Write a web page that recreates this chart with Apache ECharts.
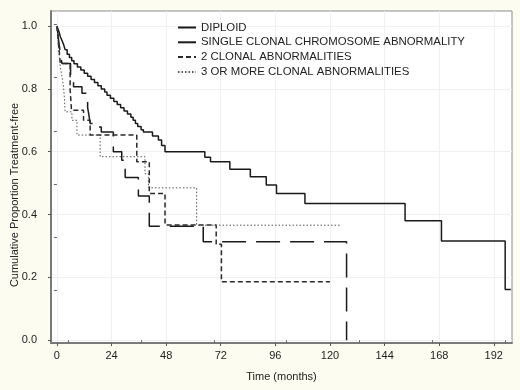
<!DOCTYPE html>
<html>
<head>
<meta charset="utf-8">
<script src="https://cdn.jsdelivr.net/npm/echarts@6/dist/echarts.min.js"></script>
<style>
  html, body { margin: 0; padding: 0; background: #fdfcf0; }
  #mainChart { width: 520px; height: 390px; }
</style>
</head>
<body>
<div id="mainChart"></div>
<script>
// 累积无治疗比例 (Kaplan-Meier)

var seriesNames = ['DIPLOID', 'SINGLE CLONAL CHROMOSOME ABNORMALITY', '2 CLONAL ABNORMALITIES', '3 OR MORE CLONAL ABNORMALITIES'];

var xTicks = [0, 24, 48, 72, 96, 120, 144, 168, 192];
var yTicks = [0, 0.2, 0.4, 0.6, 0.8, 1.0];
var topTicks = [5, 37, 69, 101, 133, 165, 197];
var rightTicks = [0.159, 0.328, 0.497, 0.666, 0.837, 1.006];

// DIPLOID
var diploidT = [0, 0.5, 1, 1.5, 2.2, 3, 3.6, 4.5, 5.5, 6.5, 7.5, 9, 10.5, 12, 13.5, 15, 16.5, 18, 19.5, 21, 22, 23.5, 25, 26.5, 28, 29.5, 31, 32.5, 33.5, 34.5, 35.5, 37, 38, 42, 44.6, 46, 47.5, 65, 67.5, 76, 85, 92, 96.5, 109, 153, 169, 197, 199.5];
var diploidP = [1.0, 0.99, 0.98, 0.966, 0.955, 0.94, 0.925, 0.91, 0.90, 0.89, 0.88, 0.87, 0.86, 0.85, 0.84, 0.83, 0.82, 0.81, 0.80, 0.79, 0.78, 0.77, 0.76, 0.75, 0.74, 0.73, 0.72, 0.71, 0.70, 0.69, 0.68, 0.67, 0.663, 0.65, 0.637, 0.62, 0.60, 0.582, 0.568, 0.544, 0.52, 0.494, 0.467, 0.435, 0.38, 0.316, 0.161, 0.161];

// SINGLE CLONAL
var singleT = [0, 0.5, 1, 1.6, 2.2, 6, 7.3, 11, 13.5, 14, 14.6, 16, 19.5, 24.8, 28.5, 30, 35.8, 40.6, 64.3, 127.3];
var singleP = [1.0, 0.97, 0.94, 0.91, 0.881, 0.84, 0.807, 0.786, 0.74, 0.72, 0.69, 0.679, 0.663, 0.60, 0.573, 0.518, 0.459, 0.363, 0.313, 0.0];

// 2 CLONAL
var twoT = [0, 0.5, 1, 1.5, 5.8, 6.4, 11.7, 14.6, 35.1, 40.6, 47.5, 70, 72.3, 120];
var twoP = [1.0, 0.96, 0.92, 0.881, 0.80, 0.732, 0.70, 0.653, 0.568, 0.467, 0.367, 0.305, 0.186, 0.186];

// 3 OR MORE
var threeT = [0, 0.5, 1, 1.5, 2.2, 2.9, 3.3, 3.6, 6.6, 8.8, 19, 38.7, 40.2, 61.4, 125];
var threeP = [1.0, 0.95, 0.91, 0.87, 0.84, 0.807, 0.77, 0.727, 0.70, 0.653, 0.584, 0.53, 0.485, 0.366, 0.366];

function pairs(t, p) {
    return t.map(function (v, i) { return [v, p[i]]; });
}

var myChart = echarts.init(document.getElementById('mainChart'));

var font = '"Liberation Sans", Arial, sans-serif';

function km(name, t, p, lineStyle) {
    return {
        name: name,
        type: 'line',
        step: 'end',
        symbol: 'none',
        data: pairs(t, p),
        lineStyle: lineStyle,
        itemStyle: { color: lineStyle.color },
        animation: false
    };
}

myChart.setOption({
    backgroundColor: '#fdfcf0',
    animation: false,
    grid: {
        left: 51,
        right: 8,
        top: 11,
        bottom: 47,
        show: true,
        backgroundColor: '#ffffff',
        borderColor: '#8c8c8c',
        borderWidth: 1
    },
    legend: {
        orient: 'vertical',
        left: 177,
        top: 22,
        padding: 0,
        itemWidth: 18,
        itemHeight: 12,
        itemGap: 3.8,
        itemStyle: { opacity: 0 },
        textStyle: { fontFamily: font, fontSize: 11.4, color: '#222' },
        data: seriesNames
    },
    xAxis: [{
        type: 'value',
        min: -2.6,
        max: 200,
        name: 'Time (months)',
        nameLocation: 'middle',
        nameGap: 28,
        nameTextStyle: { fontFamily: font, fontSize: 11, color: '#222' },
        axisLine: { show: true, onZero: false, lineStyle: { color: '#7a7a7a', width: 2 } },
        axisTick: { show: true, length: 3, customValues: xTicks, lineStyle: { color: '#555' } },
        axisLabel: { customValues: xTicks, fontFamily: font, fontSize: 11, color: '#222', margin: 7 },
        splitLine: { show: true, lineStyle: { color: '#f0f0f0', width: 1 } }
    }, {
        type: 'value',
        position: 'top',
        min: -2.6,
        max: 200,
        axisLine: { show: false },
        axisTick: { show: true, inside: true, length: 3, customValues: topTicks, lineStyle: { color: '#666' } },
        axisLabel: { show: false },
        splitLine: { show: false }
    }],
    yAxis: [{
        type: 'value',
        min: -0.009,
        max: 1.048,
        axisLine: { show: true, onZero: false, lineStyle: { color: '#7a7a7a', width: 2 } },
        axisTick: { show: true, length: 3, customValues: yTicks, lineStyle: { color: '#555' } },
        axisLabel: {
            customValues: yTicks,
            fontFamily: font, fontSize: 11, color: '#222', margin: 14,
            formatter: function (v) { return v.toFixed(1); }
        },
        splitLine: { show: true, lineStyle: { color: '#f0f0f0', width: 1 } }
    }, {
        type: 'value',
        position: 'right',
        min: -0.009,
        max: 1.048,
        axisLine: { show: false },
        axisTick: { show: true, inside: true, length: 3, customValues: rightTicks, lineStyle: { color: '#666' } },
        axisLabel: { show: false },
        splitLine: { show: false }
    }],
    graphic: [{
        type: 'text',
        x: 15,
        y: 195,
        rotation: Math.PI / 2,
        style: {
            text: 'Cumulative Proportion Treatment-free',
            font: '11px ' + font,
            fill: '#222',
            align: 'center',
            verticalAlign: 'middle'
        }
    }],
    series: [
        km(seriesNames[0], diploidT, diploidP, { color: '#1a1a1a', width: 1.5, type: 'solid' }),
        km(seriesNames[1], singleT, singleP, { color: '#1a1a1a', width: 1.5, type: [24, 10] }),
        km(seriesNames[2], twoT, twoP, { color: '#2a2a2a', width: 1.5, type: [5, 3] }),
        km(seriesNames[3], threeT, threeP, { color: '#555555', width: 1, type: [1.5, 2] })
    ]
});
</script>
</body>
</html>
